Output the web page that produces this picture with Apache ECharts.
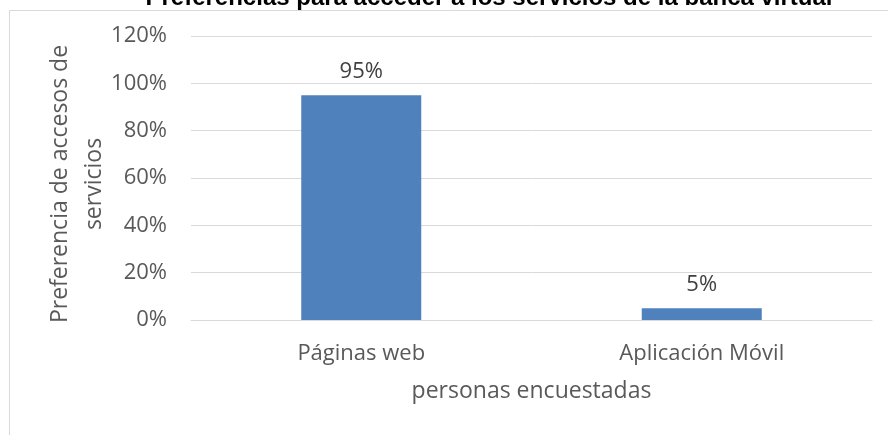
<!DOCTYPE html>
<html>
<head>
<meta charset="utf-8">
<script src="https://cdn.jsdelivr.net/npm/echarts@6/dist/echarts.min.js"></script>
<style>
  html, body { margin: 0; padding: 0; background: #fff; }
  #chart { width: 888px; height: 435px; }
</style>
</head>
<body>
<div id="chart"></div>
<script>
/* Preferencias para acceder a los servicios de la banca virtual */

const categories = ["Páginas web", "Aplicación Móvil"];
const values = [0.95, 0.05];
const yTicks = [0, 0.2, 0.4, 0.6, 0.8, 1.0, 1.2];

const GRAY_TEXT = "#595959";
const FONT = "Open Sans";

const chart = echarts.init(document.getElementById("chart"));

chart.setOption({
  animation: false,
  textStyle: { fontFamily: FONT },
  title: {
    text: "Preferencias para acceder a los servicios de la banca virtual",
    left: 484,
    textAlign: "center",
    top: -19,
    textStyle: {
      fontFamily: "Liberation Sans",
      fontWeight: "bold",
      fontSize: 24,
      color: "#000"
    }
  },
  graphic: [{
    type: "rect",
    left: 7,
    top: 8,
    shape: { width: 1000, height: 1000 },
    style: { fill: "none", stroke: "#d9d9d9", lineWidth: 1 },
    silent: true,
    z: -1
  }],
  grid: {
    left: 191,
    right: 16,
    top: 36,
    bottom: 115
  },
  xAxis: {
    type: "category",
    data: categories,
    name: "personas encuestadas",
    nameLocation: "middle",
    nameGap: 60,
    nameMoveOverlap: false,
    nameTextStyle: { fontSize: 23, color: GRAY_TEXT, fontFamily: FONT },
    axisLine: { lineStyle: { color: "#d9d9d9", width: 1 } },
    axisTick: { show: false },
    axisLabel: { fontSize: 22, color: GRAY_TEXT, margin: 23, fontFamily: FONT }
  },
  yAxis: {
    type: "value",
    min: yTicks[0],
    max: yTicks[yTicks.length - 1],
    interval: 0.2,
    name: "Preferencia de accesos de\nservicios",
    nameLocation: "middle",
    nameRotate: 90,
    nameGap: 80,
    nameMoveOverlap: false,
    nameTextStyle: {
      fontSize: 23,
      color: GRAY_TEXT,
      lineHeight: 34,
      fontFamily: FONT,
      padding: [0, 12, 0, 0]
    },
    axisLine: { show: false },
    axisTick: { show: false },
    axisLabel: {
      fontSize: 22,
      color: GRAY_TEXT,
      margin: 24,
      fontFamily: FONT,
      formatter: (v) => Math.round(v * 100) + "%"
    },
    splitLine: { lineStyle: { color: "#d9d9d9", width: 1 } }
  },
  series: [{
    type: "bar",
    data: values,
    barWidth: 120,
    itemStyle: { color: "#4f81bd" },
    label: {
      show: true,
      position: "top",
      distance: 12,
      fontSize: 22,
      color: "#404040",
      fontFamily: FONT,
      formatter: (p) => Math.round(p.value * 100) + "%"
    }
  }]
});
</script>
</body>
</html>
